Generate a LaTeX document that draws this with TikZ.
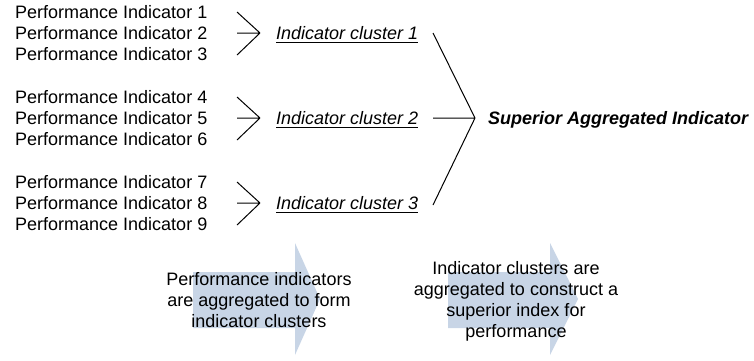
\documentclass[tikz,border=0pt]{standalone}
\usepackage{fontspec}
\setmainfont{Liberation Sans}
\definecolor{arrowfill}{RGB}{200,213,230}
\begin{document}
\begin{tikzpicture}[x=1pt,y=-1pt,
  txt/.style={inner sep=0pt,anchor=base west,font=\fontsize{18}{21}\selectfont},
  clus/.style={txt,font=\fontsize{18}{21}\selectfont\itshape},
  sup/.style={txt,font=\fontsize{18}{21}\selectfont\bfseries\itshape},
  note/.style={inner sep=0pt,anchor=north,align=center,font=\fontsize{18}{21}\selectfont},
  ln/.style={line width=1pt},
  bigarrow/.style={fill=arrowfill,draw=none}]
\useasboundingbox (0,0) rectangle (754,360);
% background process arrows
\fill[bigarrow] (193,272) -- (295,272) -- (295,243) -- (320,299) -- (295,355) -- (295,328) -- (193,328) -- cycle;
\fill[bigarrow] (448,272) -- (550,272) -- (550,243) -- (578,299) -- (550,355) -- (550,328) -- (448,328) -- cycle;
% indicators
\foreach \g in {0,1,2}{
  \pgfmathsetmacro{\c}{33+85*\g}
  \foreach \k in {1,2,3}{
    \pgfmathtruncatemacro{\n}{3*\g+\k}
    \node[txt] (p\n) at (15,\c+21*\k-42+6.5) {Performance Indicator \n};
  }
  \pgfmathtruncatemacro{\gg}{\g+1}
  \coordinate (ct\gg) at (237,\c-21);
  \coordinate (cm\gg) at (237,\c);
  \coordinate (cb\gg) at (237,\c+22);
  \coordinate (tip\gg) at (260,\c);
  \draw[ln] (ct\gg) -- (tip\gg) (cm\gg) -- (tip\gg) (cb\gg) -- (tip\gg);
  \node[clus] (cl\gg) at (276,\c+6.5) {Indicator cluster \gg};
  \draw[line width=0.9pt] ([yshift=-2.6pt]cl\gg.base west) -- ([yshift=-2.6pt]cl\gg.base east);
}
% aggregation to superior indicator
\coordinate (jt) at (433,33);
\coordinate (jm) at (433,118);
\coordinate (jb) at (433,205);
\coordinate (j) at (475,118);
\draw[ln] (jt) -- (j) (jm) -- (j) (jb) -- (j);
\node[sup] (super) at (488,118+6.5) {Superior Aggregated Indicator};
% notes
\node[note] (n1) at (259,272.4) {Performance indicators\\are aggregated to form\\indicator clusters};
\node[note] (n2) at (516,261.4) {Indicator clusters are\\aggregated to construct a\\superior index for\\performance};
\end{tikzpicture}
\end{document}
